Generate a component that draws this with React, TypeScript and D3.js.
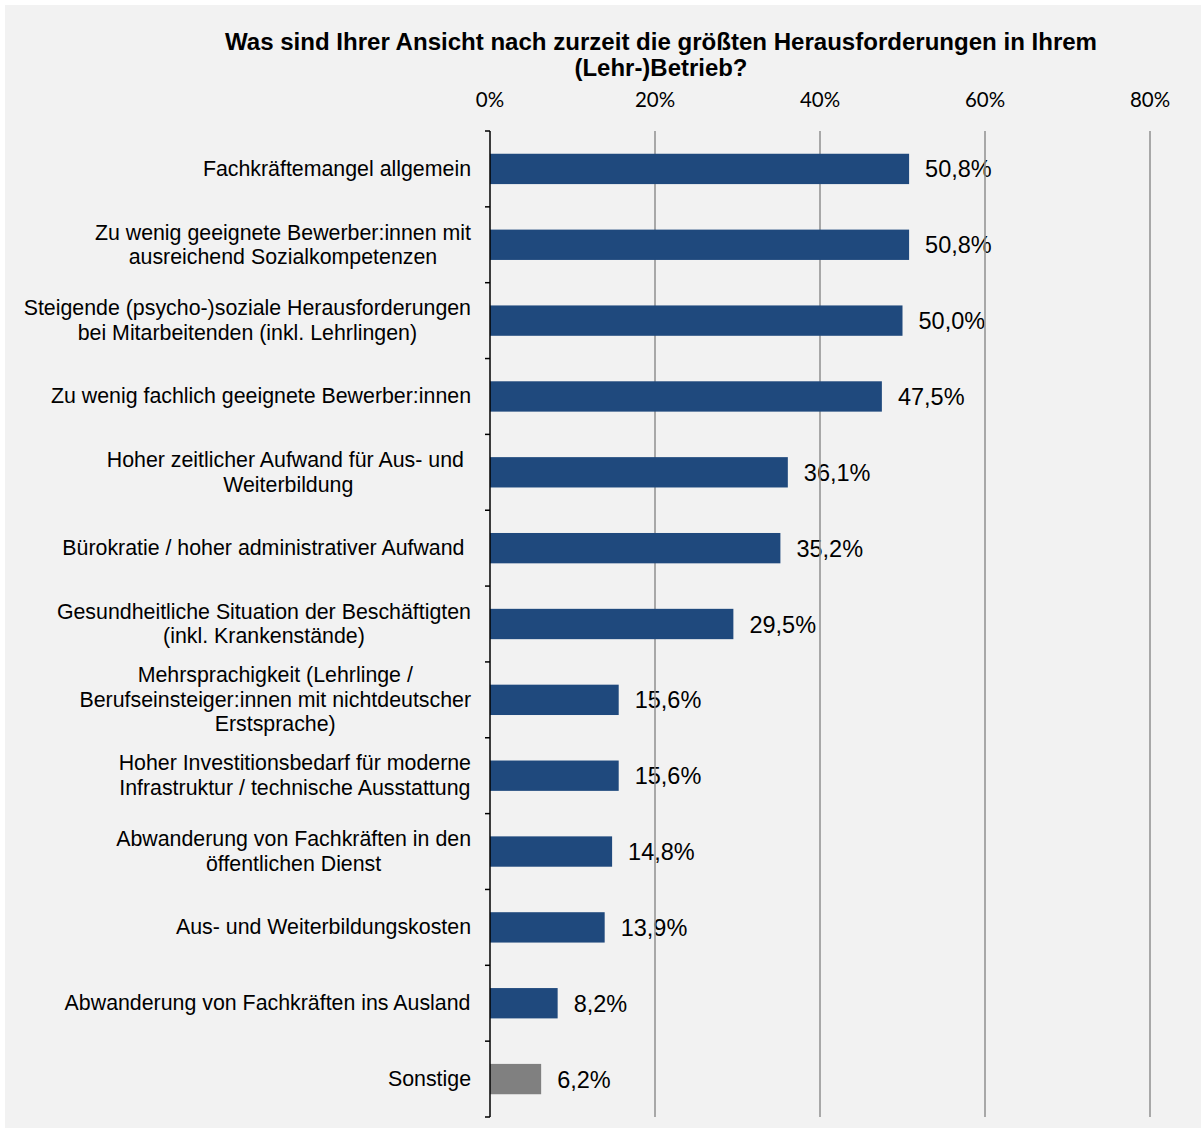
import React from "react";
import * as d3 from "d3";

const categories: string[][] = [
  ["Fachkräftemangel allgemein"],
  ["Zu wenig geeignete Bewerber:innen mit", "ausreichend Sozialkompetenzen"],
  ["Steigende (psycho-)soziale Herausforderungen", "bei Mitarbeitenden (inkl. Lehrlingen)"],
  ["Zu wenig fachlich geeignete Bewerber:innen"],
  ["Hoher zeitlicher Aufwand für Aus- und ", "Weiterbildung"],
  ["Bürokratie / hoher administrativer Aufwand "],
  ["Gesundheitliche Situation der Beschäftigten", "(inkl. Krankenstände)"],
  ["Mehrsprachigkeit (Lehrlinge /", "Berufseinsteiger:innen mit nichtdeutscher", "Erstsprache)"],
  ["Hoher Investitionsbedarf für moderne", "Infrastruktur / technische Ausstattung"],
  ["Abwanderung von Fachkräften in den", "öffentlichen Dienst"],
  ["Aus- und Weiterbildungskosten"],
  ["Abwanderung von Fachkräften ins Ausland"],
  ["Sonstige"],
];
const values: number[] = [50.8, 50.8, 50.0, 47.5, 36.1, 35.2, 29.5, 15.6, 15.6, 14.8, 13.9, 8.2, 6.2];
const tickValues: number[] = [0, 20, 40, 60, 80];
const titleLines: string[] = [
  "Was sind Ihrer Ansicht nach zurzeit die größten Herausforderungen in Ihrem",
  "(Lehr-)Betrieb?",
];

const W = 1201;
const H = 1128;
const LABEL_SIZE = 21.35;
const LABEL_FONT = `${LABEL_SIZE}px 'Liberation Sans', Arial, sans-serif`;

let ctx: CanvasRenderingContext2D | null = null;
function measure(t: string): number {
  if (!ctx) {
    const c = document.createElement("canvas");
    ctx = c.getContext("2d");
  }
  if (!ctx) return t.length * 10.5;
  ctx.font = LABEL_FONT;
  return ctx.measureText(t).width;
}

export default function App() {
  const x = d3.scaleLinear().domain([0, 80]).range([490, 1150]);
  const idx = categories.map((_, i) => i);
  const y = d3.scaleBand<number>().domain(idx).range([131, 1117]).paddingInner(0.6).paddingOuter(0.3);
  const band = d3.scaleBand<number>().domain(idx).range([131, 1117]);
  const labelRight = 471;
  const lineH = 24.5;

  return (
    <div style={{ position: "absolute", left: 0, top: 0 }}>
      <svg width={W} height={H} style={{ display: "block" }}>
        <rect x={5} y={5} width={W - 5} height={H - 5} fill="#f2f2f2" />
        {titleLines.map((t, i) => (
          <text
            key={i}
            x={661}
            y={50 + i * 26}
            textAnchor="middle"
            fontFamily="'Liberation Sans', Arial, sans-serif"
            fontWeight="bold"
            fontSize={23}
            fill="#000"
            textLength={i === 0 ? 872 : 173}
            lengthAdjust="spacingAndGlyphs"
          >
            {t}
          </text>
        ))}
        {tickValues.map((v) => (
          <text
            key={v}
            x={x(v)}
            y={107}
            textAnchor="middle"
            fontFamily="Lato, 'Open Sans', sans-serif"
            fontSize={20.5}
            fill="#000"
          >
            {v}%
          </text>
        ))}
        {values.map((v, i) => (
          <text
            key={i}
            x={x(v) + 16}
            y={(y(i) as number) + y.bandwidth() / 2 + 8.5}
            fontFamily="'Liberation Sans', Arial, sans-serif"
            fontSize={23.5}
            fill="#000"
          >
            {v.toFixed(1).replace(".", ",")}%
          </text>
        ))}
        {tickValues.slice(1).map((v) => (
          <line key={v} x1={x(v)} x2={x(v)} y1={131} y2={1117} stroke="#8f8f8f" strokeWidth={1.5} />
        ))}
        {values.map((v, i) => (
          <rect
            key={i}
            x={x(0)}
            y={y(i)}
            width={x(v) - x(0)}
            height={y.bandwidth()}
            fill={i === values.length - 1 ? "#808080" : "#1f497d"}
          />
        ))}
        <line x1={490} x2={490} y1={131} y2={1117} stroke="#000" strokeWidth={1.5} />
        {d3.range(categories.length + 1).map((k) => {
          const yy = 131 + k * band.step();
          return <line key={k} x1={485} x2={490} y1={yy} y2={yy} stroke="#000" strokeWidth={1.5} />;
        })}
        {categories.map((lines, i) => {
          const cy = (band(i) as number) + band.bandwidth() / 2;
          const widths = lines.map((l) => measure(l));
          const maxW = Math.max(...widths);
          const cx = labelRight - maxW / 2;
          const y0 = cy - ((lines.length - 1) * lineH) / 2 + 7;
          return (
            <text
              key={i}
              fontFamily="'Liberation Sans', Arial, sans-serif"
              fontSize={LABEL_SIZE}
              fill="#000"
              textAnchor="middle"
            >
              {lines.map((l, j) => (
                <tspan key={j} x={cx} y={y0 + j * lineH} style={{ whiteSpace: "pre" }}>
                  {l}
                </tspan>
              ))}
            </text>
          );
        })}
      </svg>
    </div>
  );
}
